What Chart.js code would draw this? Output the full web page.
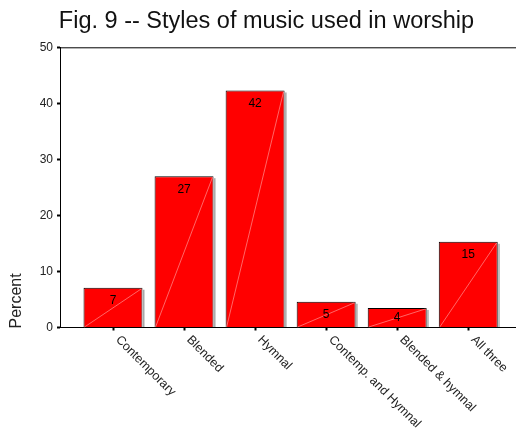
<!DOCTYPE html>
<html>
<head>
<meta charset="utf-8">
<script src="https://cdn.jsdelivr.net/npm/chart.js@4.4.0/dist/chart.umd.min.js"></script>
<style>
  html, body { margin: 0; padding: 0; background: #fff; }
  #wrap { width: 516px; height: 434px; }
</style>
</head>
<body>
<div id="wrap"><canvas id="myChart"></canvas></div>
<script>
const categories = ['Contemporary', 'Blended', 'Hymnal', 'Contemp. and Hymnal', 'Blended & hymnal', 'All three'];
const percents = [7.1, 27.0, 42.3, 4.6, 3.5, 15.3];
const barLabels = ['7', '27', '42', '5', '4', '15'];
const yTicks = [0, 10, 20, 30, 40, 50];
const chartTitle = 'Fig. 9 -- Styles of music used in worship';

const FONT = '"Liberation Sans", Arial, sans-serif';

// extra drawing: shadow, diagonal, value labels, rotated category labels, titles
const decor = {
  id: 'decor',
  afterDatasetsDraw(chart) {
    const { ctx, chartArea, scales } = chart;
    const meta = chart.getDatasetMeta(0);
    ctx.save();
    meta.data.forEach((bar, i) => {
      const { x, y, base, width } = bar.getProps(['x', 'y', 'base', 'width'], true);
      const l = x - width / 2, r = x + width / 2;
      ctx.fillStyle = '#a8a8a8';
      ctx.fillRect(r + 0.5, y + 2, 1.5, base - y - 2);
      ctx.strokeStyle = 'rgba(255,190,190,0.9)';
      ctx.lineWidth = 0.6;
      ctx.beginPath();
      ctx.moveTo(l + 1, base);
      ctx.lineTo(r - 1, y + 1);
      ctx.stroke();
      ctx.fillStyle = '#000';
      ctx.font = '12px ' + FONT;
      ctx.textAlign = 'center';
      ctx.textBaseline = 'middle';
      ctx.fillText(barLabels[i], x, Math.min(y + 13, base - 9));
    });

    // top frame line
    ctx.strokeStyle = '#000';
    ctx.lineWidth = 1;
    ctx.beginPath();
    ctx.moveTo(chartArea.left, chartArea.top + 0.5);
    ctx.lineTo(chartArea.right, chartArea.top + 0.5);
    ctx.stroke();

    // category labels, rotated 45 deg clockwise
    categories.forEach((c, i) => {
      const px = scales.x.getPixelForValue(i);
      ctx.save();
      ctx.translate(px + 9, chartArea.bottom + 6);
      ctx.rotate(Math.PI / 4);
      ctx.font = '12.5px ' + FONT;
      ctx.fillStyle = '#222';
      ctx.textAlign = 'left';
      ctx.textBaseline = 'top';
      ctx.fillText(c, 0, 0);
      ctx.restore();
    });

    // y axis title
    ctx.save();
    ctx.translate(17, chartArea.bottom + 1);
    ctx.rotate(-Math.PI / 2);
    ctx.font = '16px ' + FONT;
    ctx.fillStyle = '#222';
    ctx.textAlign = 'left';
    ctx.textBaseline = 'middle';
    ctx.fillText('Percent', 0, 0);
    ctx.restore();

    // chart title
    ctx.font = '23.5px ' + FONT;
    ctx.fillStyle = '#111';
    ctx.textAlign = 'center';
    ctx.textBaseline = 'alphabetic';
    ctx.fillText(chartTitle, 266.5, 28);
    ctx.restore();
  }
};

new Chart(document.getElementById('myChart'), {
  type: 'bar',
  data: {
    datasets: [{
      data: percents.map((v, i) => ({ x: i, y: v })),
      backgroundColor: '#ff0000',
      borderColor: '#000',
      borderWidth: 1,
      barPercentage: 0.83,
      categoryPercentage: 1
    }]
  },
  options: {
    responsive: true,
    maintainAspectRatio: false,
    animation: false,
    layout: { padding: { top: 47.3, left: 0, right: 0, bottom: 0 } },
    plugins: {
      legend: { display: false },
      tooltip: { enabled: false },
      title: { display: false }
    },
    scales: {
      x: {
        type: 'linear',
        offset: false,
        min: -0.746,
        max: 5.672,
        afterBuildTicks: (scale) => { scale.ticks = categories.map((_, i) => ({ value: i })); },
        afterFit: (scale) => { scale.height = 106.5; },
        ticks: { display: false },
        grid: { offset: false, drawOnChartArea: false, tickLength: 3, tickWidth: 2, tickColor: '#000' },
        border: { color: '#000', width: 1 }
      },
      y: {
        min: 0,
        max: 50,
        afterBuildTicks: (scale) => { scale.ticks = yTicks.map(v => ({ value: v })); },
        afterFit: (scale) => { scale.width = 60; },
        ticks: { color: '#222', padding: 4, font: { family: FONT, size: 12 } },
        grid: { drawOnChartArea: false, tickLength: 3, tickWidth: 2, tickColor: '#000' },
        border: { color: '#000', width: 1 }
      }
    }
  },
  plugins: [decor]
});
</script>
</body>
</html>
